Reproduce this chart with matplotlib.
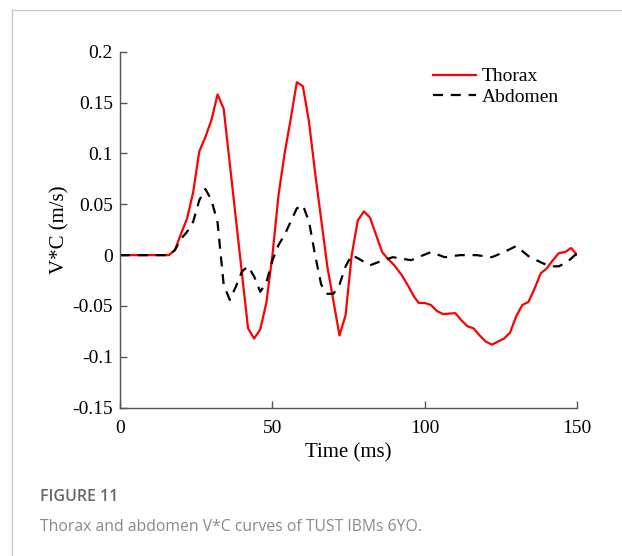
import numpy as np
import matplotlib.pyplot as plt
from matplotlib.lines import Line2D

# Thorax V*C curve
thorax_t = [0, 16, 18, 20, 22, 24, 26, 28, 30, 32, 34, 42, 44, 46, 48, 50, 52, 54,
            56, 58, 60, 62, 64, 68, 72, 74, 76, 78, 80, 82, 84, 86, 88, 90, 92.5,
            94.5, 96.5, 98, 100, 102, 104, 106, 110, 112, 114, 116, 118, 120, 122,
            124, 126, 128, 130, 132, 134, 136, 138, 140, 142, 144, 146, 148, 150]
thorax_v = [0, 0, 0.005, 0.021, 0.036, 0.062, 0.102, 0.116, 0.133, 0.158, 0.144,
            -0.072, -0.082, -0.073, -0.047, 0.0, 0.059, 0.100, 0.134, 0.170, 0.166,
            0.131, 0.081, -0.011, -0.079, -0.059, 0.0, 0.034, 0.043, 0.037, 0.020,
            0.003, -0.004, -0.010, -0.020, -0.030, -0.041, -0.047, -0.047, -0.049,
            -0.055, -0.058, -0.057, -0.064, -0.070, -0.072, -0.079, -0.085, -0.088,
            -0.085, -0.082, -0.076, -0.060, -0.049, -0.046, -0.033, -0.018, -0.013,
            -0.005, 0.002, 0.003, 0.007, 0.0]

# Abdomen V*C curve
abdomen_t = [0, 16, 18, 20, 22, 24, 26, 28, 30, 32, 34, 36, 38, 40, 42, 44, 46, 48,
             50, 52, 54, 56, 58, 60, 62, 64, 66, 68, 70, 72, 74, 76, 78, 82, 85.5,
             89.5, 95.5, 99.5, 102, 106.5, 111.5, 117, 122, 126, 130, 134, 138, 141,
             144, 147, 150]
abdomen_v = [0, 0, 0.005, 0.016, 0.023, 0.033, 0.054, 0.065, 0.054, 0.032, -0.029,
             -0.044, -0.031, -0.016, -0.011, -0.021, -0.036, -0.027, -0.005, 0.010,
             0.020, 0.033, 0.046, 0.049, 0.033, 0.0, -0.029, -0.038, -0.038, -0.029,
             -0.011, 0.0, -0.003, -0.010, -0.006, -0.002, -0.005, 0.0, 0.003, -0.002,
             0.0, 0.0, -0.002, 0.003, 0.009, -0.001, -0.007, -0.011, -0.011, -0.006,
             0.002]

x_ticks = [0, 50, 100, 150]
y_ticks = [0.2, 0.15, 0.1, 0.05, 0, -0.05, -0.1, -0.15]
y_tick_labels = ["0.2", "0.15", "0.1", "0.05", "0", "-0.05", "-0.1", "-0.15"]

serif = "Liberation Serif"

fig = plt.figure(figsize=(6.22, 5.56), dpi=100)
ax = fig.add_axes([0.193, 0.2667, 0.735, 0.6403])

ax.plot(thorax_t, thorax_v, color="#ff0000", lw=1.6, label="Thorax")
ax.plot(abdomen_t, abdomen_v, color="black", lw=1.6, dashes=(4.5, 3.5), label="Abdomen")

ax.set_xlim(0, 150)
ax.set_ylim(-0.15, 0.2)
ax.set_xticks(x_ticks)
ax.set_xticklabels([str(t) for t in x_ticks], fontfamily=serif, fontsize=14)
ax.set_yticks(y_ticks)
ax.set_yticklabels(y_tick_labels, fontfamily=serif, fontsize=14)
ax.tick_params(direction="in", length=5, width=1, color="#555555")
ax.tick_params(axis="x", pad=9)
ax.tick_params(axis="y", pad=5)

for side in ["top", "right"]:
    ax.spines[side].set_visible(False)
for side in ["left", "bottom"]:
    ax.spines[side].set_color("#555555")
    ax.spines[side].set_linewidth(1.0)

ax.set_xlabel("Time (ms)", fontfamily=serif, fontsize=15, labelpad=4.5)
ax.set_ylabel("V*C (m/s)", fontfamily=serif, fontsize=15, labelpad=2)

ax.legend(loc="upper left", bbox_to_anchor=(0.685, 0.955), frameon=False,
          prop={"family": serif, "size": 14}, borderpad=0, borderaxespad=0,
          handlelength=2.2, handletextpad=0.3, labelspacing=0.15)

# page frame lines
fig.add_artist(Line2D([12 / 622, 1], [1 - 10 / 556, 1 - 10 / 556],
                      color="#c8c8c8", lw=1))
fig.add_artist(Line2D([12 / 622, 12 / 622], [0, 1 - 10 / 556],
                      color="#c8c8c8", lw=1))

fig.text(40 / 622, 1 - 497 / 556, "FIGURE 11", fontfamily="Open Sans",
         fontweight="semibold", fontsize=11.5, color="#666666", va="center")
fig.text(40 / 622, 1 - 527 / 556, "Thorax and abdomen V*C curves of TUST IBMs 6YO.",
         fontfamily="Open Sans", fontsize=11.3, color="#8a8a8a", va="center")

plt.savefig("out.png", dpi=100)
